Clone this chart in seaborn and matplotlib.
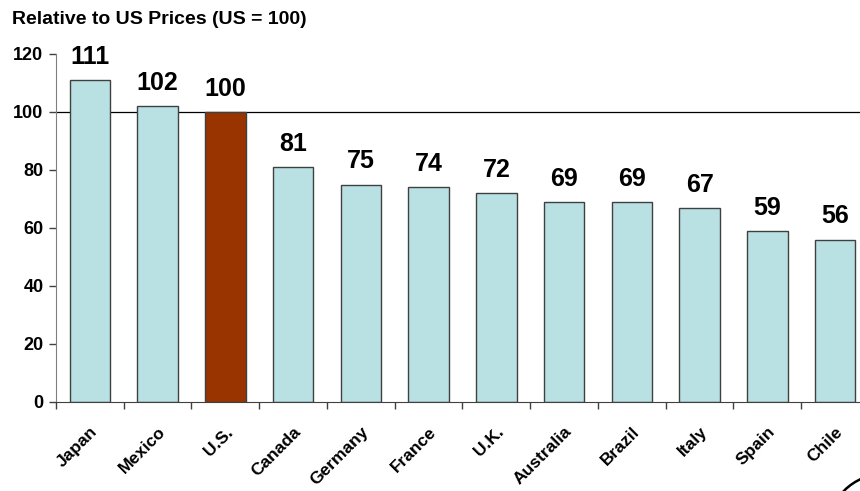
import matplotlib
matplotlib.use('Agg')
import matplotlib.pyplot as plt
import seaborn as sns
from matplotlib.patches import Arc

countries = ['Japan', 'Mexico', 'U.S.', 'Canada', 'Germany', 'France', 'U.K.',
             'Australia', 'Brazil', 'Italy', 'Spain', 'Chile']
prices = [111, 102, 100, 81, 75, 74, 72, 69, 69, 67, 59, 56]
bar_colors = ['#B9E0E2' if c != 'U.S.' else '#993300' for c in countries]

sns.set_style('white')
plt.rcParams['font.family'] = ['Liberation Sans', 'DejaVu Sans']
plt.rcParams['font.weight'] = 'bold'
plt.rcParams['text.color'] = 'black'
plt.rcParams['xtick.color'] = 'black'
plt.rcParams['ytick.color'] = 'black'

fig = plt.figure(figsize=(8.6, 4.91), dpi=100)
ax = fig.add_axes([56 / 860, 1 - 402 / 491, (869 - 56) / 860, (402 - 54) / 491])

sns.barplot(x=countries, y=prices, hue=countries, palette=bar_colors, legend=False,
            width=0.6, saturation=1, edgecolor='#404040', linewidth=1.0, ax=ax)

ax.axhline(100, color='black', linewidth=0.9, zorder=0.5)

for i, v in enumerate(prices):
    ax.annotate(str(v), (i, v), xytext=(0, 8), textcoords='offset points',
                ha='center', va='bottom', fontsize=18, fontweight='bold', color='black')

ax.set_ylim(0, 120)
ax.set_xlim(-0.5, len(countries) - 0.5)
ax.set_yticks(range(0, 121, 20))
ax.tick_params(axis='y', length=5, width=1, color='#404040', labelcolor='black',
               labelsize=13, pad=4, left=True)
ax.set_xticks([i - 0.5 for i in range(len(countries))], minor=True)
ax.tick_params(axis='x', which='minor', length=5, width=1, color='#404040', bottom=True)
ax.tick_params(axis='x', which='major', length=0, pad=16, labelsize=12.5, labelcolor='black')
ax.set_xticks(range(len(countries)))
ax.set_xticklabels(countries, rotation=45, ha='right', rotation_mode='anchor', fontweight='bold')
for lab in ax.get_yticklabels():
    lab.set_fontweight('bold')

sns.despine(ax=ax, top=True, right=True)
ax.spines['left'].set_color('#808080')
ax.spines['bottom'].set_color('#404040')
ax.set_xlabel('')
ax.set_ylabel('')

fig.text(12 / 860, 1 - 20 / 491, 'Relative to US Prices (US = 100)', fontsize=14,
         fontweight='bold', ha='left', va='center', color='black')

# partial circle in the bottom-right corner (pixel coords, origin bottom-left)
arc = Arc((884, 491 - 530), 112, 112, theta1=90, theta2=180, color='black',
          linewidth=1.8, transform=None)
fig.add_artist(arc)

fig.savefig('out.png', dpi=100)
